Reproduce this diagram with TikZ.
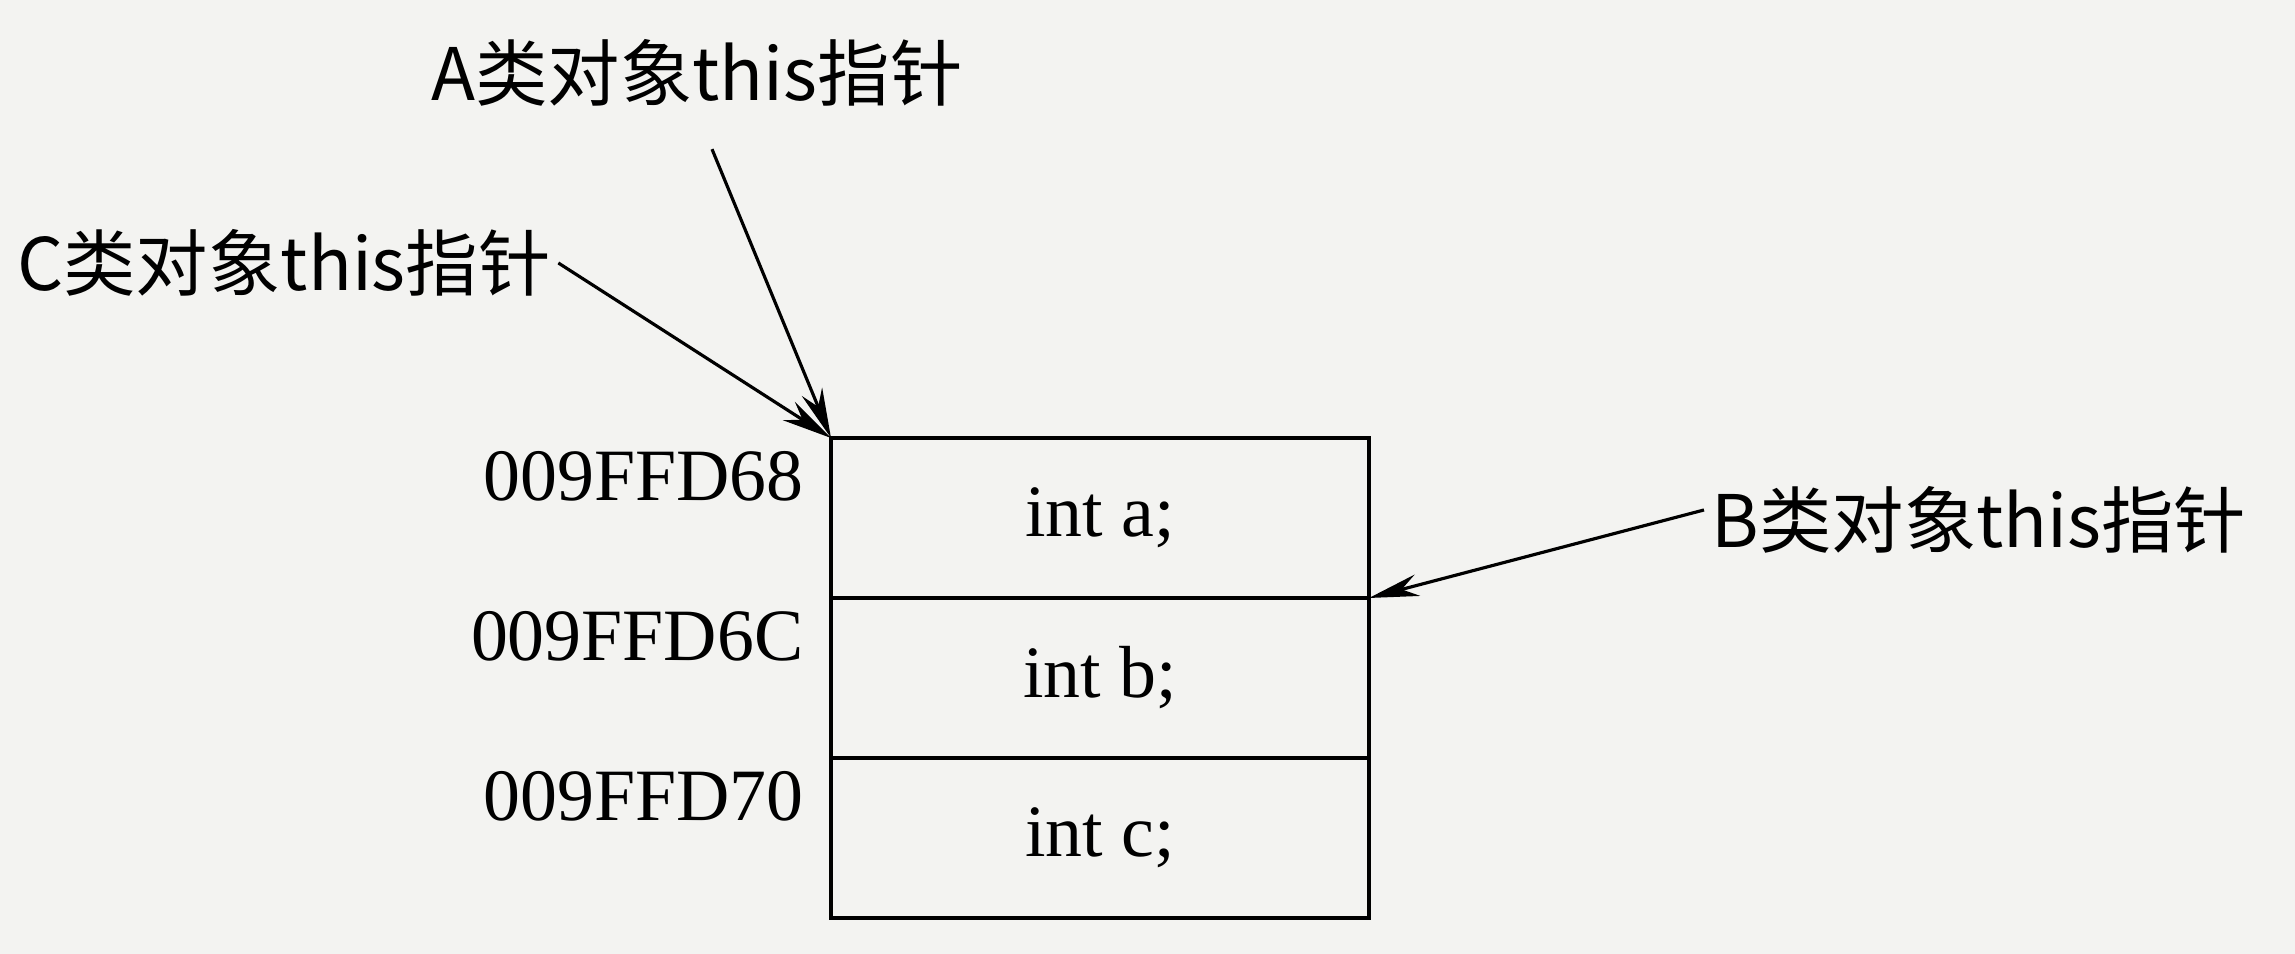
\documentclass[tikz,border=0pt]{standalone}
\usepackage{fontspec}
\setmainfont{Liberation Serif}
\newfontfamily\cjk{Noto Sans CJK SC}
\usetikzlibrary{positioning,arrows.meta}
\tikzset{>={Stealth[length=5mm,width=2.2mm]}}
\tikzset{cell/.style={draw, line width=1.2pt, outer sep=0pt, minimum width=5.38cm, minimum height=1.6cm, font=\fontsize{21}{25}\selectfont, inner sep=0pt}}
\tikzset{addr/.style={font=\fontsize{21}{25}\selectfont, anchor=east, inner sep=2pt}}
\tikzset{ptr/.style={font=\cjk\fontsize{20.6}{25}\selectfont, inner sep=2pt}}
\definecolor{paper}{RGB}{243,243,241}

\begin{document}
\begin{tikzpicture}
\fill[paper] (0,0) rectangle (22.95,9.54);
\useasboundingbox (0,0) rectangle (22.95,9.54);
\node[cell, anchor=north west] (ca) at (8.31,5.16) {int a;};
\node[cell, below=0pt of ca] (cb) {int b;};
\node[cell, below=0pt of cb] (cc) {int c;};
\foreach \c/\t in {ca/009FFD68, cb/009FFD6C, cc/009FFD70}
\node[addr] (\c-addr) at ([shift={(-0.2,-0.38)}]\c.north west) {\t};
\node[ptr] (pa) at (6.97,8.81) {A类对象this指针};
\node[ptr] (pc) at (2.84,6.91) {C类对象this指针};
\node[ptr] (pb) at (19.79,4.34) {B类对象this指针};
\draw[->, line width=0.9pt] ([shift={(0.15,-0.35)}]pa.south) -- (ca.north west);
\draw[->, line width=0.9pt] (pc.east) -- (ca.north west);
\draw[->, line width=0.9pt] ([yshift=0.1cm]pb.west) -- (ca.south east);
\end{tikzpicture}
\end{document}
